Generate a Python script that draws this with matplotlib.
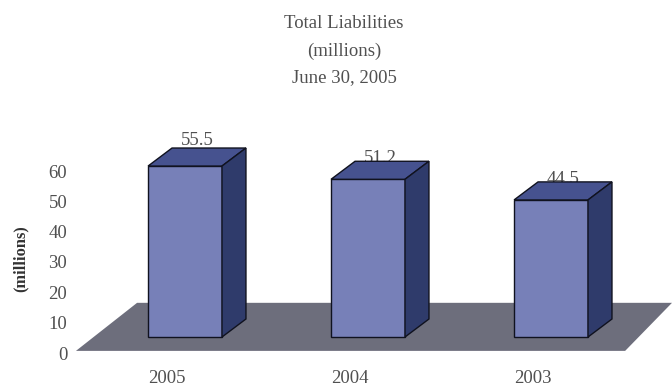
import matplotlib
matplotlib.use('Agg')
import matplotlib.pyplot as plt
from matplotlib.patches import Polygon

plt.rcParams['font.family'] = ['Liberation Serif', 'DejaVu Serif']

## ==========================
## Chart values
## ==========================
years = ['2005', '2004', '2003']
liabilities = [55.5, 51.2, 44.5]
yticks = [0, 10, 20, 30, 40, 50, 60]
title_lines = 'Total Liabilities\n(millions)\nJune 30, 2005'

W, H = 672, 386
text_col = '#505050'

fig = plt.figure(figsize=(W / 100, H / 100), dpi=100, facecolor='white')

# main axes covers the whole figure, x in bar slots, y in millions
ax = fig.add_axes([0, 0, 1, 1])
ax.set_xlim(-1.011, 2.661)
ax.set_ylim(-15.9, 109.4)
ax.axis('off')

bar_w = 0.404
dx = 0.131   # fake 3d depth, in bar slots
dy = 5.85    # fake 3d depth, in millions

# floor
floor_y = -4.5
ax.add_patch(Polygon([(-0.596, floor_y), (2.405, floor_y), (2.661, floor_y + 15.6), (-0.262, floor_y + 15.6)],
                     closed=True, fc='#6d6e7c', ec='none', zorder=1))

for i, (year, v) in enumerate(zip(years, liabilities)):
    x0 = i - bar_w / 2
    x1 = i + bar_w / 2
    ax.add_patch(Polygon([(x0, 0), (x1, 0), (x1, v), (x0, v)], closed=True,
                         fc='#7780b8', ec='#10121f', lw=1.0, zorder=4))
    ax.add_patch(Polygon([(x0, v), (x1, v), (x1 + dx, v + dy), (x0 + dx, v + dy)], closed=True,
                         fc='#46528f', ec='#10121f', lw=1.0, zorder=4))
    ax.add_patch(Polygon([(x1, 0), (x1 + dx, dy), (x1 + dx, v + dy), (x1, v)], closed=True,
                         fc='#2f3b6b', ec='#10121f', lw=1.0, zorder=4))
    # value sits behind the bar top, only the first one clears it
    nudge = 3 if i == 0 else -2
    ax.annotate(str(v), (i + dx / 2, v + dy), xytext=(0, nudge), textcoords='offset pixels',
                ha='center', va='baseline', fontsize=13.5, color=text_col, zorder=3)
    ax.annotate(year, (i, 0), xytext=(-18, -46), textcoords='offset pixels',
                ha='center', va='baseline', fontsize=13.5, color=text_col)

# y scale sits on its own axes, a bit off from the bars
tick_ax = fig.add_axes([70 / W, (H - 353) / H, 1 / W, 182 / H])
tick_ax.set_ylim(0, 60)
tick_ax.set_xticks([])
tick_ax.set_yticks(yticks)
tick_ax.tick_params(axis='y', length=0, pad=2, labelsize=13.5, labelcolor=text_col)
tick_ax.patch.set_visible(False)
for s in tick_ax.spines.values():
    s.set_visible(False)

fig.text(21 / W, 1 - 259 / H, '(millions)', rotation=90, ha='center', va='center',
         fontsize=11.8, fontweight='bold', color='#333333')
fig.text(344 / W, 1 - 15.5 / H, title_lines, ha='center', va='top', fontsize=13.5,
         color=text_col, linespacing=1.75)

fig.savefig('out.png', dpi=100)
